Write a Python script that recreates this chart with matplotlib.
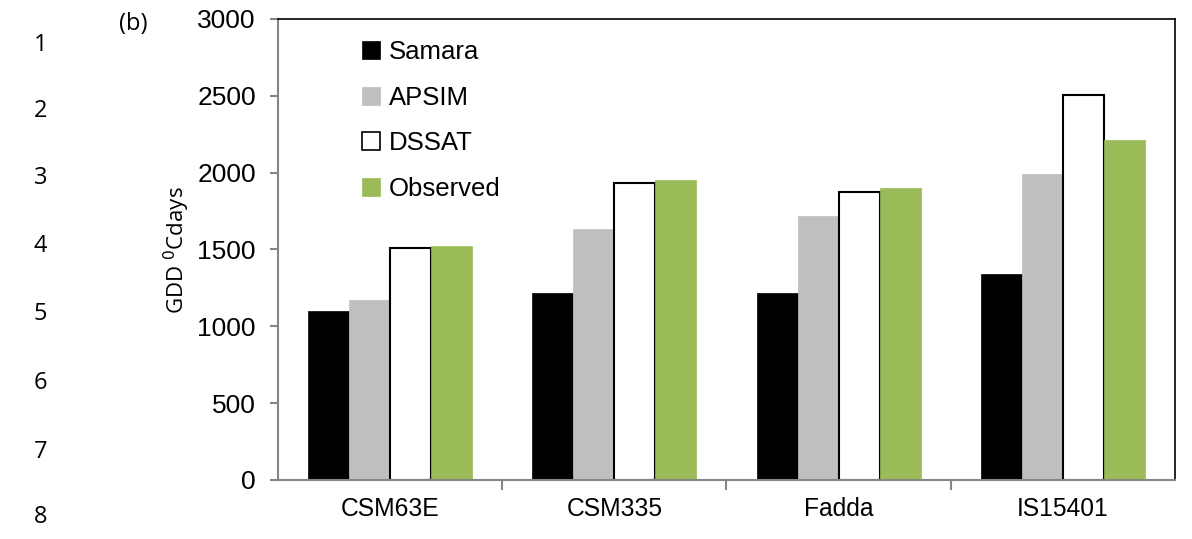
import matplotlib.pyplot as plt
from matplotlib.patches import Patch
import numpy as np

cultivars = ['CSM63E', 'CSM335', 'Fadda', 'IS15401']
samara = [1100, 1220, 1220, 1340]
apsim = [1170, 1630, 1720, 1990]
dssat = [1510, 1935, 1875, 2505]
observed = [1525, 1950, 1900, 2210]

series = [('Samara', samara, 'black', 'black'),
          ('APSIM', apsim, '#BFBFBF', '#BFBFBF'),
          ('DSSAT', dssat, 'white', 'black'),
          ('Observed', observed, '#9BBB59', '#9BBB59')]

plt.rcParams['font.family'] = ['Liberation Sans', 'DejaVu Sans']

fig = plt.figure(figsize=(11.92, 5.39), dpi=100)
ax = fig.add_axes([0.2332, 0.1095, 0.7525, 0.8553])

x = np.arange(len(cultivars))
w = 0.183
for i, (name, vals, fc, ec) in enumerate(series):
    lw = 1.5 if name == 'DSSAT' else 0.5
    ax.bar(x + (i - 1.5) * w, vals, width=w, color=fc, edgecolor=ec, linewidth=lw, label=name)

ax.set_xlim(-0.5, 3.5)
ax.set_ylim(0, 3000)
ax.set_yticks(range(0, 3001, 500))
ax.set_xticks(x)
ax.set_xticklabels(cultivars)
ax.set_xticks([0.5, 1.5, 2.5], minor=True)
ax.tick_params(axis='x', which='major', length=0, labelsize=17.7, pad=12)
ax.tick_params(axis='x', which='minor', length=7, color='#868686', width=1.5)
ax.tick_params(axis='y', length=6, color='#868686', width=1.5, labelsize=19, pad=10)

for s in ['top', 'right']:
    ax.spines[s].set_color('black')
    ax.spines[s].set_linewidth(1.2)
for s in ['left', 'bottom']:
    ax.spines[s].set_color('#868686')
    ax.spines[s].set_linewidth(1.5)

handles = [Patch(facecolor=fc, edgecolor=ec, linewidth=1.2 if n == 'DSSAT' else 0.5) for n, v, fc, ec in series]
ax.legend(handles, [s[0] for s in series], loc='upper left', bbox_to_anchor=(0.068, 1.005),
          frameon=False, fontsize=18.5, handlelength=0.7, handleheight=0.7,
          handletextpad=0.35, labelspacing=0.85)

side = ['Open Sans', 'DejaVu Sans']
fig.text(0.148, 0.535, 'GDD $^{0}$Cdays', rotation=90, ha='center', va='center', fontsize=16, family=side)
fig.text(0.112, 0.955, '(b)', ha='center', va='center', fontsize=17, family=side)
line_y = [45, 111, 178, 246, 314, 383, 452, 517]
for n, yy in enumerate(line_y, start=1):
    fig.text(0.034, 1 - yy / 539, str(n), ha='center', va='center', fontsize=17, family=side)

fig.savefig('out.png', dpi=100)
